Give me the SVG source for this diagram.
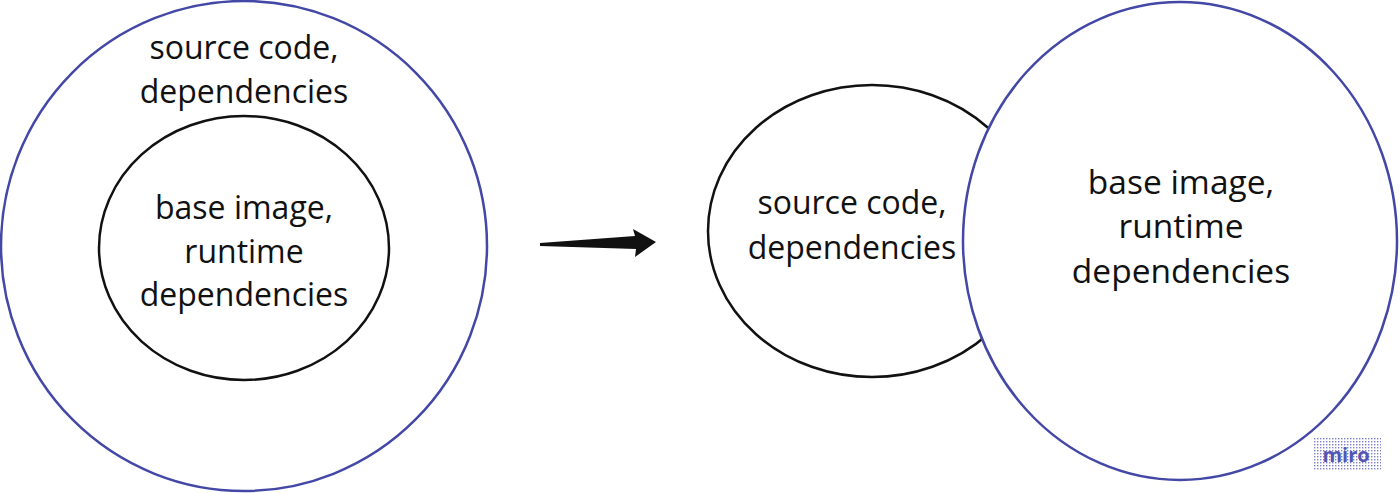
<svg xmlns="http://www.w3.org/2000/svg" width="1400" height="493" viewBox="0 0 1400 493">
<style>
.blue{fill:#fff;stroke:#4347a6;stroke-width:2.5}
.black{fill:#fff;stroke:#111;stroke-width:2.5}
.t{font-family:"Open Sans","Noto Sans","Liberation Sans",sans-serif;font-size:32px;fill:#111;text-anchor:middle}
.tl{font-size:33.5px}
</style>
<defs>
<pattern id="dots" width="3" height="3" patternUnits="userSpaceOnUse">
<rect width="1.4" height="1.4" fill="#7c80c8"/>
</pattern>
</defs>
<rect width="1400" height="493" fill="#fff"/>
<g id="outer">
<ellipse class="blue" cx="244" cy="246" rx="243" ry="245"/>
<text class="t" x="244" y="59">source code,</text>
<text class="t" x="244" y="103">dependencies</text>
</g>
<g id="inner">
<ellipse class="black" cx="244" cy="248" rx="145" ry="132"/>
<text class="t" x="244" y="219">base image,</text>
<text class="t" x="244" y="263">runtime</text>
<text class="t" x="244" y="306">dependencies</text>
</g>
<g id="connectors">
<polygon points="540,243 635,236 633,229 656,242 635,257 636,249 540,246" fill="#111"/>
</g>
<g id="small">
<ellipse class="black" cx="872" cy="231" rx="164" ry="146"/>
<text class="t" x="852" y="214">source code,</text>
<text class="t" x="852" y="259">dependencies</text>
</g>
<g id="large">
<ellipse class="blue" cx="1180" cy="241" rx="217" ry="239"/>
<text class="t tl" x="1181" y="194">base image,</text>
<text class="t tl" x="1181" y="238">runtime</text>
<text class="t tl" x="1181" y="283">dependencies</text>
</g>
<g id="logo">
<rect x="1313" y="437" width="68" height="34" fill="url(#dots)"/>
<text x="1346" y="462" font-family="'Open Sans','Liberation Sans',sans-serif" font-size="20" font-weight="bold" fill="#5356b3" text-anchor="middle">miro</text>
</g>
</svg>
